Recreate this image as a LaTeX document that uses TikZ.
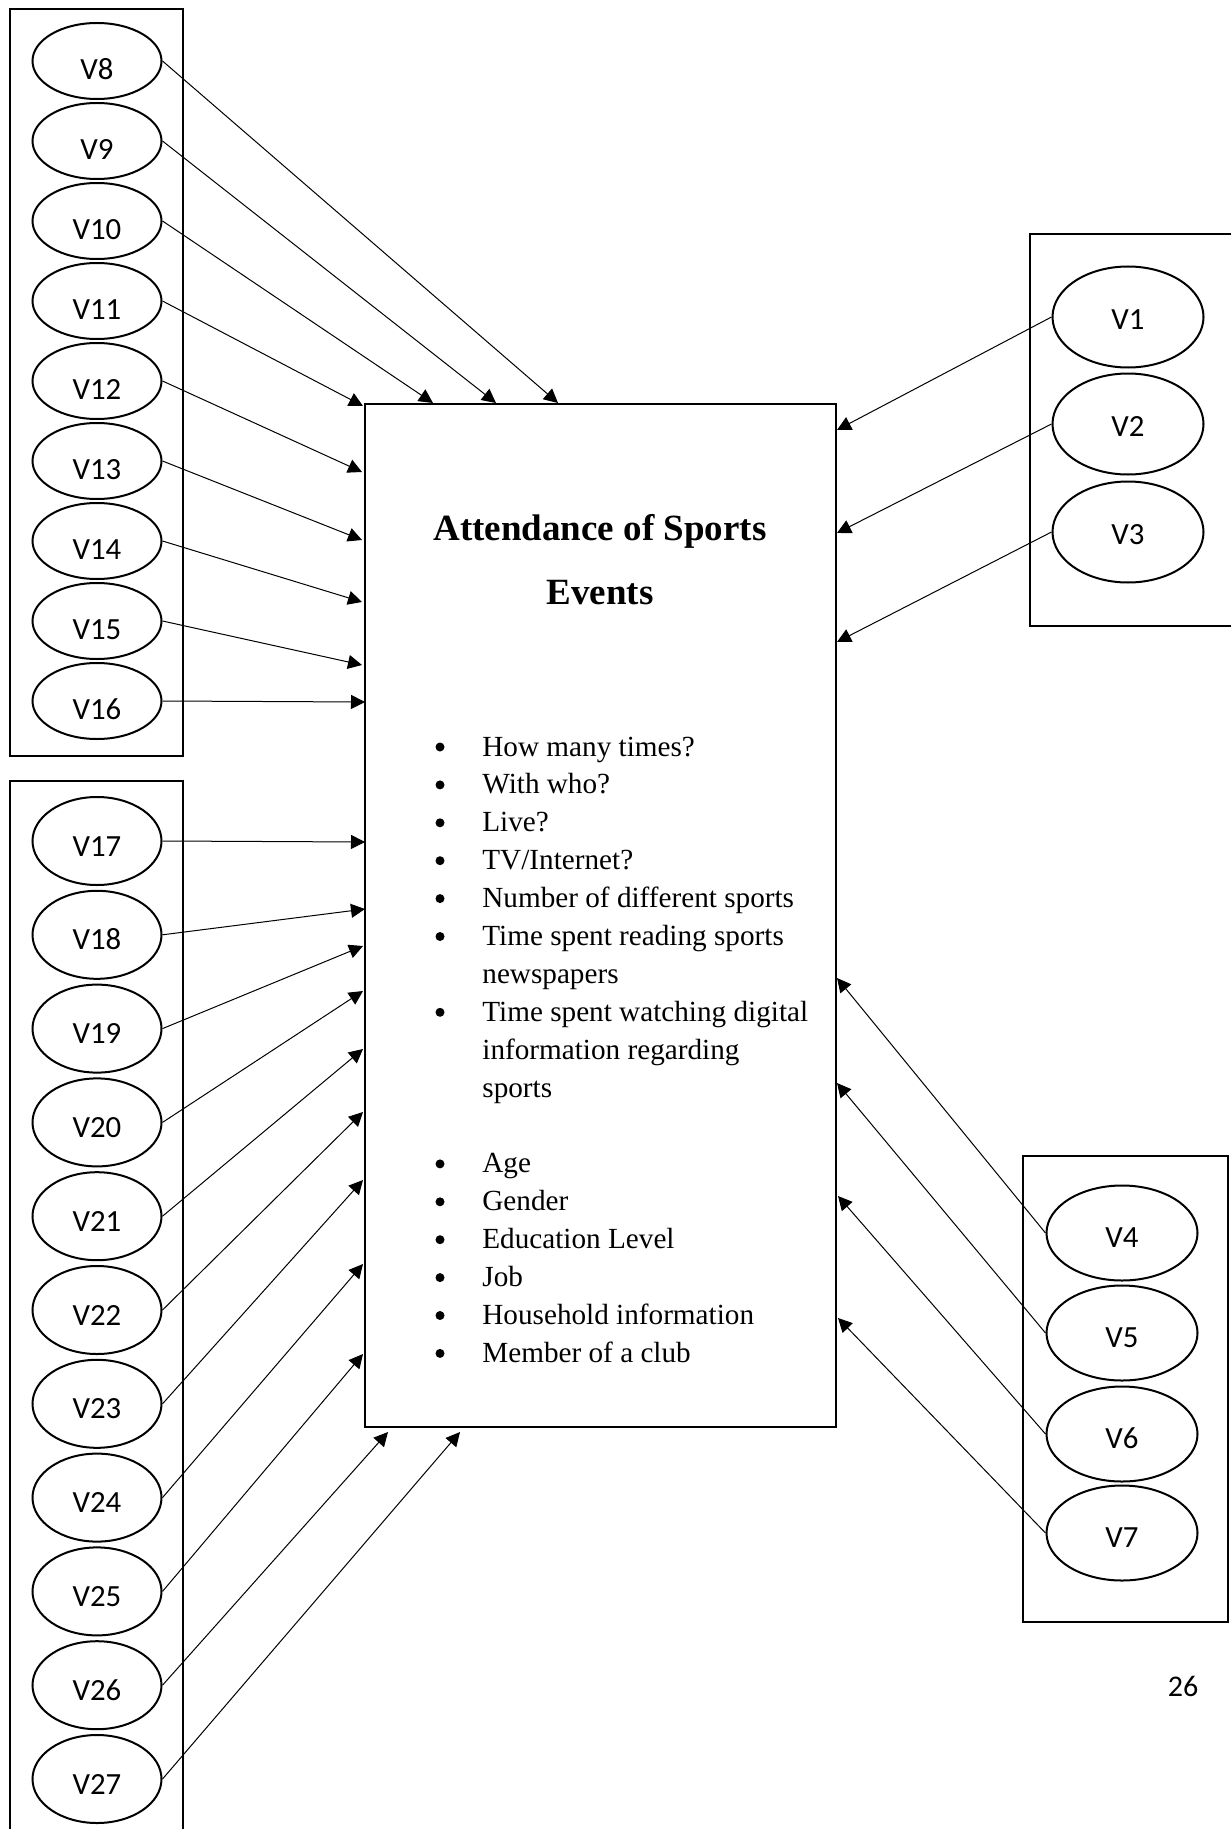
\documentclass[tikz,border=0pt]{standalone}
\usepackage{fontspec}
\setmainfont{Liberation Serif}
\newfontfamily\calibfont{Carlito}
\usetikzlibrary{arrows.meta,shapes.geometric}

\tikzset{
  var/.style={draw,ellipse,line width=1pt,inner sep=0pt,text depth=0pt,
              font=\calibfont\fontsize{15.4}{18}\selectfont},
  varA/.style={var,minimum width=64.5pt,minimum height=38pt,text height=18.9pt},
  varB/.style={var,minimum width=64.5pt,minimum height=44pt,text height=15pt},
  varC/.style={var,minimum width=75.5pt,minimum height=50.5pt,text height=12pt},
  varD/.style={var,minimum width=75.5pt,minimum height=47.5pt,text height=14pt},
  grp/.style={line width=1.2pt},
  link/.style={-{Triangle[length=7pt,width=7pt]},line width=0.5pt},
  item/.style={anchor=base west,inner sep=0pt,font=\fontsize{14.6}{19}\selectfont},
  dot/.style={circle,fill,inner sep=0pt,minimum size=4.5pt}
}

\begin{document}
\begin{tikzpicture}[x=0.5pt,y=-0.5pt]
 \useasboundingbox (0,0) rectangle (1231,1829);
 % groups of variables
 \draw[grp] (10,9) rectangle (183,756);
 \draw[grp] (183,1829) -- (183,781) -- (10,781) -- (10,1829);
 \draw[grp] (1231,234) -- (1030,234) -- (1030,626) -- (1231,626);
 \draw[grp] (1023,1156) rectangle (1228,1622);

 \foreach \n [count=\i from 0] in {8,...,16}
   \node[varA] (v\n) at (97,{61+80*\i}) {V\n};
 \foreach \n [count=\i from 0] in {17,...,27}
   \node[varB] (v\n) at (97,{841+93.8*\i}) {V\n};
 \foreach \n/\y in {1/317,2/424,3/532}
   \node[varC] (v\n) at (1128,\y) {V\n};
 \foreach \n/\y in {4/1233,5/1333,6/1434,7/1533}
   \node[varD] (v\n) at (1122,\y) {V\n};

 % central box
 \node[draw,line width=0.8pt,inner sep=0pt,minimum width=235.5pt,
       minimum height=511.5pt] (att) at (600.5,915.5) {};
 \node[anchor=base,font=\bfseries\fontsize{18.5}{22}\selectfont] (title1) at (600,540) {Attendance of Sports};
 \node[anchor=base,font=\bfseries\fontsize{18.5}{22}\selectfont] (title2) at (600,604) {Events};

 \foreach \k/\txt in {0/How many times?,1/With who?,2/Live?,3/{TV/Internet?},
     4/Number of different sports,5/Time spent reading sports,6/newspapers,
     7/Time spent watching digital,8/information regarding,9/sports,
     11/Age,12/Gender,13/Education Level,14/Job,15/Household information,
     16/Member of a club}
   \node[item] (line\k) at (482,{756+37.9*\k}) {\txt};
 \foreach \k in {0,1,2,3,4,5,7,11,12,13,14,15,16}
   \node[dot] (bul\k) at (440,{747+37.9*\k}) {};

 % arrow ends on the central box
 \foreach \n/\x/\y in {8/558/403,9/496/403,10/433/403,11/363/406,12/362/472,
     13/362/540,14/362/602,15/362/665,16/365/702,17/365/842,18/365/909,
     19/363/946,20/363/991,21/363/1049,22/363/1112,23/363/1180,24/363/1264,
     25/363/1354,26/388/1432,27/460/1432,1/837/430,2/837/533,3/837/642,
     4/837/978,5/837/1083,6/838/1196,7/838/1318}
   \coordinate (t\n) at (\x,\y);
 \foreach \n in {8,...,27}
   \draw[link] (v\n.east) -- (t\n);
 \foreach \n in {1,...,7}
   \draw[link] (v\n.west) -- (t\n);

 \node[font=\calibfont\fontsize{15}{18}\selectfont] (page) at (1183,1686) {26};
\end{tikzpicture}
\end{document}
